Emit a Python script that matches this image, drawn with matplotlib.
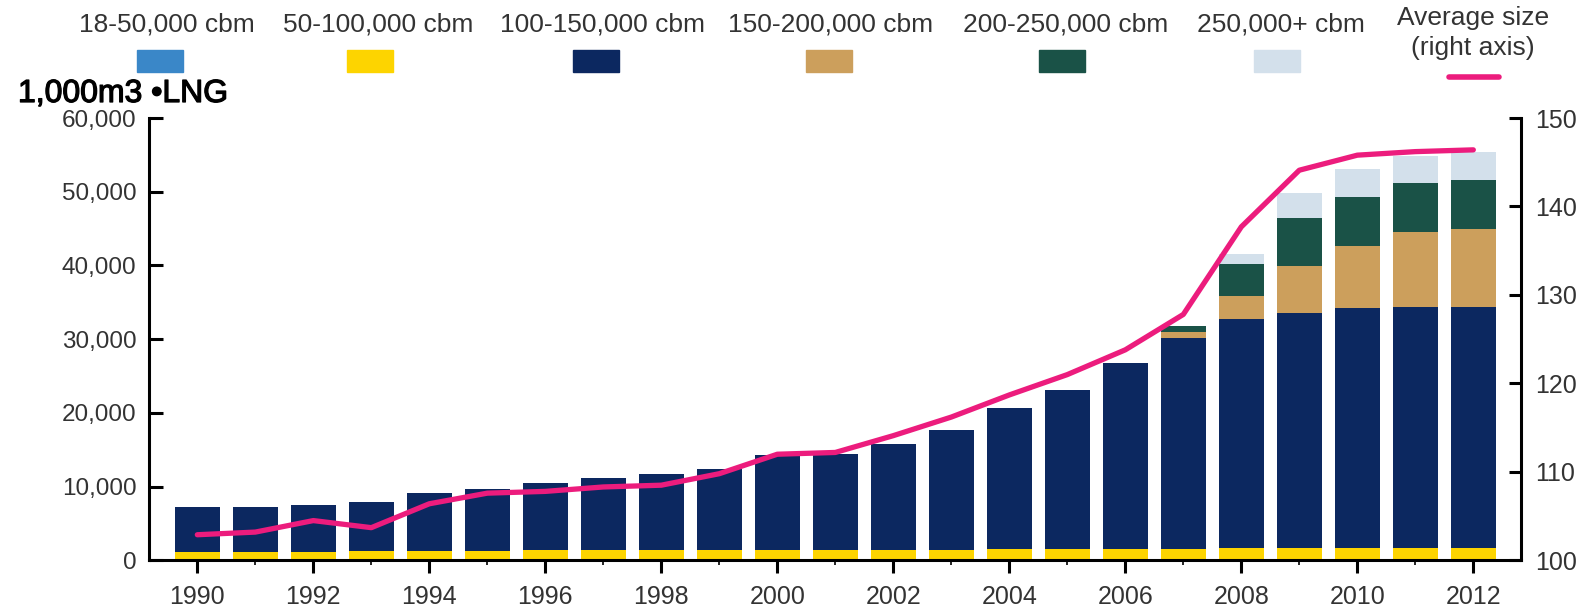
import matplotlib
matplotlib.use("Agg")
import matplotlib.pyplot as plt
import matplotlib.patheffects as pe
from matplotlib.patches import Rectangle
from matplotlib.lines import Line2D
import numpy as np

plt.rcParams["font.family"] = ["Liberation Sans", "DejaVu Sans"]

years = list(range(1990, 2013))

# fleet capacity by ship size, 1,000 m3 LNG
cap_18_50 = [0] * 23
cap_50_100 = [1150, 1150, 1150, 1250, 1300, 1300, 1400, 1400, 1450, 1450, 1450, 1450,
              1450, 1450, 1500, 1500, 1550, 1600, 1700, 1700, 1700, 1700, 1700]
cap_100_150 = [6130, 6130, 6320, 6630, 7880, 8340, 9140, 9820, 10220, 10940, 12840, 12980,
               14290, 16190, 19160, 21600, 25210, 28580, 30990, 31840, 32520, 32700, 32700]
cap_150_200 = [0] * 17 + [790, 3160, 6390, 8450, 10170, 10580]
cap_200_250 = [0] * 17 + [810, 4340, 6540, 6650, 6560, 6600]
cap_250_plus = [0] * 17 + [0, 1350, 3300, 3710, 3750, 3840]

# average ship size, 1,000 cbm (right axis)
avg_size = [102.9, 103.2, 104.5, 103.7, 106.4, 107.6, 107.8, 108.3, 108.5, 109.8, 112.0, 112.2,
            114.1, 116.2, 118.7, 121.0, 123.8, 127.8, 137.7, 144.1, 145.8, 146.2, 146.4]

series_labels = ["18-50,000 cbm", "50-100,000 cbm", "100-150,000 cbm",
                 "150-200,000 cbm", "200-250,000 cbm", "250,000+ cbm"]
colors = ["#3A87C8", "#FDD400", "#0C2860", "#CC9F5C", "#1A5247", "#D3E0EB"]
pink = "#EC1C7D"
text_grey = "#333333"

W, H = 1582, 611
fig = plt.figure(figsize=(W / 100, H / 100), dpi=100)
ax = fig.add_axes([149 / W, (H - 560.4) / H, (1520.7 - 149) / W, (560.4 - 118) / H])

stack = [cap_18_50, cap_50_100, cap_100_150, cap_150_200, cap_200_250, cap_250_plus]
bottom = np.zeros(len(years))
for vals, col in zip(stack, colors):
    ax.bar(years, vals, width=0.78, bottom=bottom, color=col, linewidth=0)
    bottom += np.array(vals)

ax.set_xlim(1989.167, 2012.817)
ax.set_ylim(0, 60000)
ax.set_yticks(range(0, 60001, 10000))
ax.set_yticklabels([f"{v:,}" for v in range(0, 60001, 10000)])
ax.set_xticks(range(1990, 2013, 2))
ax.set_xticks(range(1991, 2013, 2), minor=True)

ax2 = ax.twinx()
ax2.plot(years, avg_size, color=pink, lw=3.8, solid_joinstyle="round", solid_capstyle="round")
ax2.set_ylim(100, 150)
ax2.set_yticks(range(100, 151, 10))

for a in (ax, ax2):
    for s in a.spines.values():
        s.set_visible(False)
        s.set_linewidth(2.2)
ax.spines["left"].set_visible(True)
ax.spines["bottom"].set_visible(True)
ax2.spines["right"].set_visible(True)

ax.tick_params(axis="y", direction="in", length=10, width=2.2, pad=9,
               labelsize=17.5, labelcolor=text_grey)
ax.tick_params(axis="x", which="major", direction="out", length=9.4, width=2.2, pad=8,
               labelsize=18, labelcolor=text_grey)
ax.tick_params(axis="x", which="minor", direction="out", length=3.6, width=1.2)
ax2.tick_params(axis="y", direction="in", length=9, width=2.2, pad=10.5,
                labelsize=18, labelcolor=text_grey)

# legend row across the top
label_x = [167, 378, 602, 831, 1066, 1281]
patch_x = [160, 370, 596, 829, 1062, 1277]
for lab, lx, px, col in zip(series_labels, label_x, patch_x, colors):
    fig.text(lx / W, 1 - 31.5 / H, lab, ha="center", va="baseline", fontsize=19, color=text_grey)
    fig.patches.append(Rectangle(((px - 23) / W, 1 - 71.7 / H), 46 / W, 21.7 / H,
                                 transform=fig.transFigure, color=col, figure=fig))
fig.text(1473 / W, 1 - 25.5 / H, "Average size", ha="center", va="baseline", fontsize=19, color=text_grey)
fig.text(1473 / W, 1 - 55 / H, "(right axis)", ha="center", va="baseline", fontsize=19, color=text_grey)
fig.lines.append(Line2D([1449 / W, 1499 / W], [1 - 76.7 / H] * 2, transform=fig.transFigure,
                        color=pink, lw=4, solid_capstyle="round", figure=fig))

fig.text(18 / W, 1 - 102 / H, "1,000m3 \u2022LNG", ha="left", va="baseline", fontsize=23, color="black",
         path_effects=[pe.withStroke(linewidth=0.9, foreground="black")])

fig.savefig("out.png", dpi=100)
